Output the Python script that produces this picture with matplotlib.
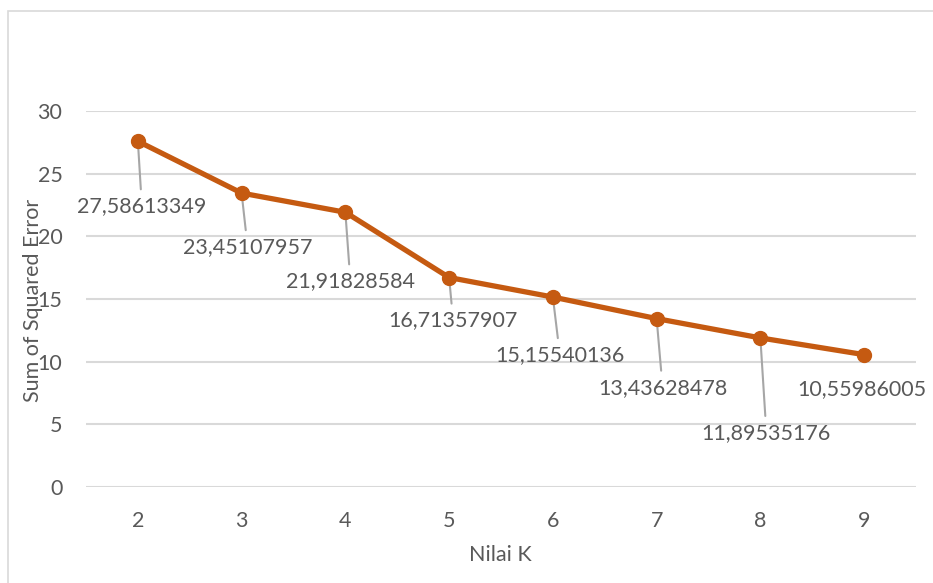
import matplotlib
matplotlib.use("Agg")
import matplotlib.pyplot as plt
from matplotlib.patches import Rectangle

k_values = [2, 3, 4, 5, 6, 7, 8, 9]
sse = [27.58613349, 23.45107957, 21.91828584, 16.71357907,
       15.15540136, 13.43628478, 11.89535176, 10.55986005]
sse_labels = ["27,58613349", "23,45107957", "21,91828584", "16,71357907",
              "15,15540136", "13,43628478", "11,89535176", "10,55986005"]
y_ticks = [0, 5, 10, 15, 20, 25, 30]

# label offsets in pixels (dx, dy) relative to each point
label_offsets = [(4, -65), (6, -54), (5, -69), (4, -43),
                 (7, -58), (6, -69), (6, -95), (-2, -34)]
leader = [True, True, True, True, True, True, True, False]

plt.rcParams['font.family'] = ['Lato', 'DejaVu Sans']
TXT = '#595959'
LINE = '#C55A11'
FS = 15.5

fig = plt.figure(figsize=(9.33, 5.83), dpi=100)
W, H = 933, 583
ax = fig.add_axes([86 / W, 1 - 487 / H, (916 - 86) / W, (487 - 111) / H])

# chart border
fig.patches.append(Rectangle((8 / W, -0.05), 1.1, 1 - 11 / H + 0.05,
                             transform=fig.transFigure, fill=False,
                             edgecolor='#D9D9D9', linewidth=1.2))

ax.set_xlim(1.5, 9.5)
ax.set_ylim(0, 30)
ax.set_yticks(y_ticks)
ax.set_xticks(k_values)
ax.grid(axis='y', color='#D9D9D9', linewidth=1.5)
ax.set_axisbelow(True)
for s in ax.spines.values():
    s.set_visible(False)
ax.tick_params(length=0, labelsize=FS, labelcolor=TXT)
ax.tick_params(axis='y', pad=17)
ax.tick_params(axis='x', pad=17)

ax.plot(k_values, sse, color=LINE, linewidth=3.8, marker='o',
        markersize=10, zorder=5, solid_capstyle='round')

for k, v, lab, (dx, dy), ld in zip(k_values, sse, sse_labels, label_offsets, leader):
    kw = {}
    if ld:
        kw['arrowprops'] = dict(arrowstyle='-', color='#A6A6A6', lw=1.5,
                                shrinkA=3, shrinkB=0)
    ax.annotate(lab, xy=(k, v), xytext=(dx, dy), textcoords='offset pixels',
                ha='center', va='center', fontsize=FS, color=TXT,
                annotation_clip=False, zorder=4, **kw)

fig.text(33 / W, 1 - 300 / H, 'Sum of Squared Error', rotation=90,
         ha='center', va='center', fontsize=FS, color=TXT)
fig.text(500 / W, 1 - 555 / H, 'Nilai K', ha='center', va='center',
         fontsize=FS, color=TXT)

fig.savefig('out.png', dpi=100)
